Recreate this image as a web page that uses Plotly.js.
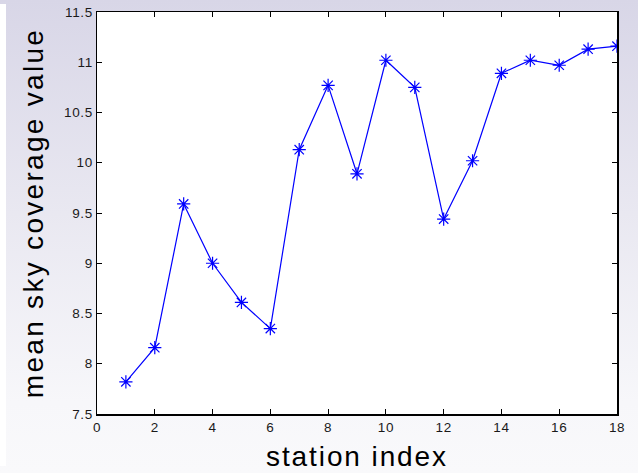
<!DOCTYPE html>
<html>
<head>
<meta charset="utf-8">
<script src="https://cdn.plot.ly/plotly-3.0.1.min.js"></script>
<style>
  html, body { margin: 0; padding: 0; }
  body {
    width: 638px; height: 473px; overflow: hidden; position: relative;
    background: linear-gradient(to bottom, #d8d6e7 0%, #e9e8f1 45%, #f7f7fa 85%, #f9f9fb 100%);
  }
  #strip { position: absolute; left: 0; top: 4px; width: 6px; height: 462px; background: #ffffff; }
  #chart { position: absolute; left: 0; top: 0; width: 638px; height: 473px; }
  /* wide-set axis titles */
  #chart .g-xtitle text { letter-spacing: 1.9px; }
  #chart .g-ytitle text { letter-spacing: 2.3px; }
  #chart .xtick text, #chart .ytick text { letter-spacing: 0.6px; }
</style>
</head>
<body>
<div id="strip"></div>
<div id="chart"></div>
<script>
// station indices and their mean sky coverage values
const stations = [1, 2, 3, 4, 5, 6, 7, 8, 9, 10, 11, 12, 13, 14, 15, 16, 17, 18];
const coverage = [7.82, 8.16, 9.59, 9.00, 8.61, 8.35, 10.13, 10.77, 9.89, 11.02,
                  10.75, 9.44, 10.02, 10.89, 11.02, 10.97, 11.13, 11.16];
const xTicks = [0, 2, 4, 6, 8, 10, 12, 14, 16, 18];
const yTicks = [7.5, 8, 8.5, 9, 9.5, 10, 10.5, 11, 11.5];

const tickFont = { family: 'Liberation Sans, Arial, sans-serif', size: 13.5, color: '#1a1a1a' };
const titleFont = { family: 'Liberation Sans, Arial, sans-serif', size: 28, color: '#000000' };

const trace = {
  x: stations,
  y: coverage,
  type: 'scatter',
  mode: 'lines+markers',
  line: { color: '#0000ff', width: 1.2 },
  marker: { symbol: 'asterisk-open', size: 11, color: '#0000ff', line: { color: '#0000ff', width: 1.2 } },
  hoverinfo: 'x+y'
};

const axisCommon = {
  showline: true, linecolor: '#000000', linewidth: 1.5, mirror: 'ticks',
  ticks: 'inside', ticklen: 5, tickwidth: 1, tickcolor: '#000000',
  showgrid: false, zeroline: false, tickfont: tickFont
};

const layout = {
  width: 638, height: 473,
  margin: { l: 97, r: 21, t: 12, b: 59 },
  paper_bgcolor: 'rgba(0,0,0,0)',
  plot_bgcolor: '#ffffff',
  showlegend: false,
  xaxis: Object.assign({}, axisCommon, {
    range: [0, 18], tickvals: xTicks, ticktext: xTicks.map(String),
    title: { text: 'station index', font: titleFont, standoff: 12 }
  }),
  yaxis: Object.assign({}, axisCommon, {
    range: [7.5, 11.5], tickvals: yTicks, ticktext: yTicks.map(String),
    title: { text: 'mean sky coverage value', font: titleFont, standoff: 14 }
  })
};

Plotly.newPlot('chart', [trace], layout, { displayModeBar: false, staticPlot: true });
</script>
</body>
</html>
